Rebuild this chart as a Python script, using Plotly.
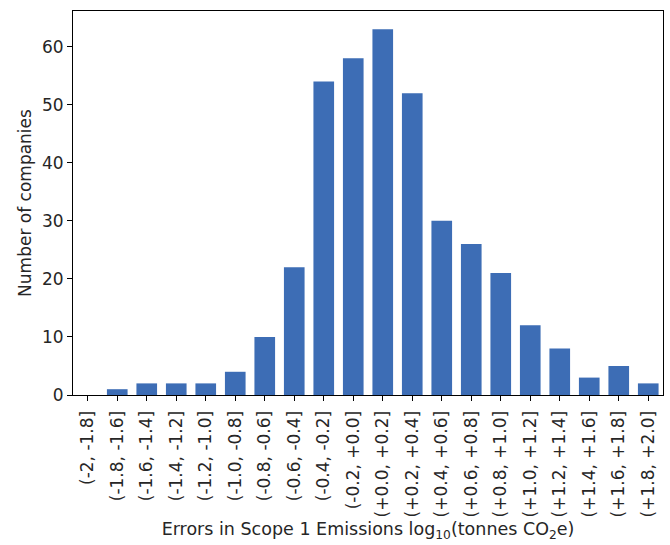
import plotly.graph_objects as go

bins = ["(-2, -1.8]", "(-1.8, -1.6]", "(-1.6, -1.4]", "(-1.4, -1.2]", "(-1.2, -1.0]",
        "(-1.0, -0.8]", "(-0.8, -0.6]", "(-0.6, -0.4]", "(-0.4, -0.2]", "(-0.2, +0.0]",
        "(+0.0, +0.2]", "(+0.2, +0.4]", "(+0.4, +0.6]", "(+0.6, +0.8]", "(+0.8, +1.0]",
        "(+1.0, +1.2]", "(+1.2, +1.4]", "(+1.4, +1.6]", "(+1.6, +1.8]", "(+1.8, +2.0]"]
counts = [0, 1, 2, 2, 2, 4, 10, 22, 54, 58, 63, 52, 30, 26, 21, 12, 8, 3, 5, 2]
yticks = [0, 10, 20, 30, 40, 50, 60]

positions = list(range(len(bins)))

fig = go.Figure(go.Bar(
    x=positions, y=counts, width=0.7,
    marker=dict(color="#3d6db5", line=dict(width=0)),
))

txt = dict(family="DejaVu Sans", size=17, color="#262626")

fig.update_layout(
    width=670, height=545,
    margin=dict(l=73, r=7, t=11, b=150),
    paper_bgcolor="white", plot_bgcolor="white",
    font=txt,
    showlegend=False,
    xaxis=dict(
        range=[-0.5, len(bins) - 0.5],
        tickmode="array", tickvals=positions, ticktext=bins,
        tickangle=-90, ticks="outside", ticklen=5, tickcolor="black",
        tickfont=txt, ticklabelstandoff=3,
        showline=True, linecolor="black", linewidth=1, mirror=True,
        showgrid=False, zeroline=False,
        title=dict(text="Errors in Scope 1 Emissions log<sub>10</sub>(tonnes CO<sub>2</sub>e)",
                   font=dict(family="DejaVu Sans", size=17.5, color="#262626"), standoff=6),
    ),
    yaxis=dict(
        range=[0, 66.15],
        tickmode="array", tickvals=yticks,
        ticks="outside", ticklen=5, tickcolor="black",
        tickfont=txt,
        showline=True, linecolor="black", linewidth=1, mirror=True,
        showgrid=False, zeroline=False,
        title=dict(text="Number of companies", font=txt, standoff=6),
    ),
)

fig.write_html("out.html", config={"displayModeBar": False},
               post_script="document.body.style.margin='0';document.body.style.padding='0';")
